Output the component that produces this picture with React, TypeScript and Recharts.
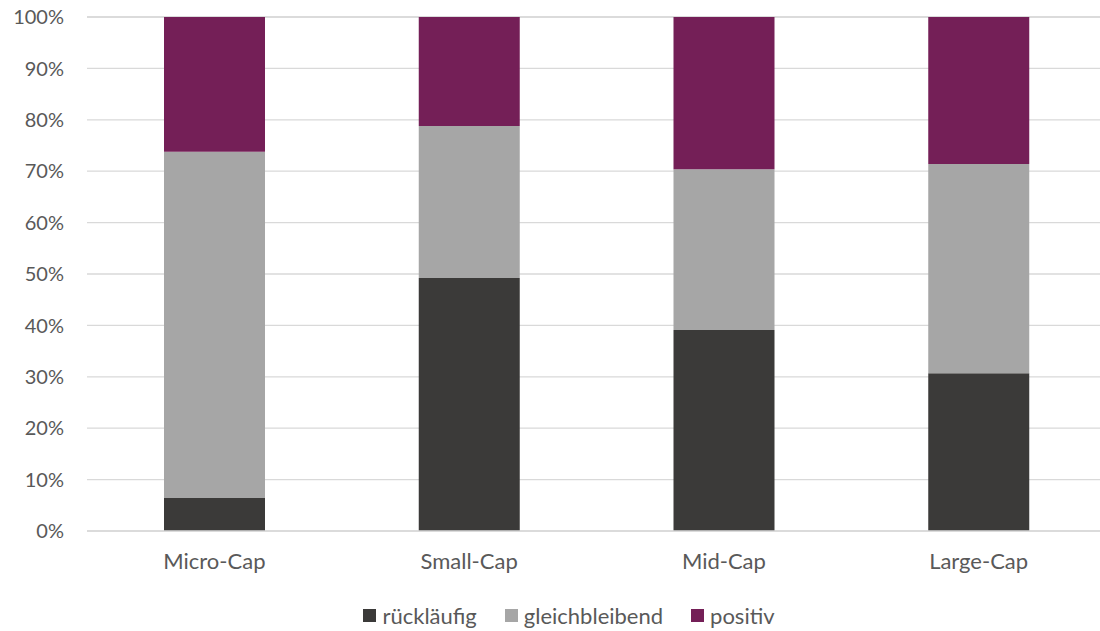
import { Bar, BarChart, CartesianGrid, Legend, XAxis, YAxis } from "recharts";

const CATEGORIES = ["Micro-Cap", "Small-Cap", "Mid-Cap", "Large-Cap"];
const RUECKLAEUFIG = [6.4, 49.2, 39.1, 30.7];
const GLEICHBLEIBEND = [67.4, 29.6, 31.3, 40.7];
const POSITIV = [26.2, 21.2, 29.6, 28.6];
const Y_TICKS = [0, 10, 20, 30, 40, 50, 60, 70, 80, 90, 100];

const SERIES = [
  { key: "rueck", name: "rückläufig", color: "#3B3A39" },
  { key: "gleich", name: "gleichbleibend", color: "#A6A6A6" },
  { key: "pos", name: "positiv", color: "#741F57" },
];

const FONT = "Lato, 'Open Sans', sans-serif";
const TEXT = "#595959";

const data = CATEGORIES.map((c, i) => ({
  name: c,
  rueck: RUECKLAEUFIG[i],
  gleich: GLEICHBLEIBEND[i],
  pos: POSITIV[i],
}));

function LegendRow() {
  return (
    <div
      style={{
        display: "flex",
        justifyContent: "center",
        alignItems: "center",
        fontFamily: FONT,
        fontSize: 22,
        color: TEXT,
        height: 30,
        paddingTop: 19,
        paddingLeft: 32,
      }}
    >
      {SERIES.map((s) => (
        <div key={s.key} style={{ display: "flex", alignItems: "center", margin: "0 14px" }}>
          <span
            style={{ width: 13, height: 13, background: s.color, display: "inline-block", marginRight: 6 }}
          />
          <span>{s.name}</span>
        </div>
      ))}
    </div>
  );
}

export default function App() {
  return (
    <div style={{ position: "absolute", left: 0, top: 0, width: 1100, height: 631, background: "#fff" }}>
      <BarChart
        width={1100}
        height={631}
        data={data}
        margin={{ top: 17, right: -6, left: 0, bottom: 0 }}
      >
        <CartesianGrid vertical={false} stroke="#D9D9D9" strokeWidth={1.3} />
        <XAxis
          dataKey="name"
          axisLine={{ stroke: "#D9D9D9", strokeWidth: 1.3 }}
          tickLine={false}
          tickSize={0}
          tickMargin={22}
          height={50}
          tick={{ fill: TEXT, fontSize: 22, fontFamily: FONT }}
        />
        <YAxis
          width={87}
          domain={[0, 100]}
          ticks={Y_TICKS}
          interval={0}
          axisLine={false}
          tickLine={false}
          tickSize={0}
          tickMargin={23}
          tickFormatter={(v) => `${v}%`}
          tick={{ fill: TEXT, fontSize: 20, fontFamily: FONT }}
        />
        <Legend verticalAlign="bottom" height={50} content={() => <LegendRow />} />
        {SERIES.map((s) => (
          <Bar
            key={s.key}
            dataKey={s.key}
            name={s.name}
            stackId="a"
            fill={s.color}
            barSize={101}
            isAnimationActive={false}
          />
        ))}
      </BarChart>
    </div>
  );
}
